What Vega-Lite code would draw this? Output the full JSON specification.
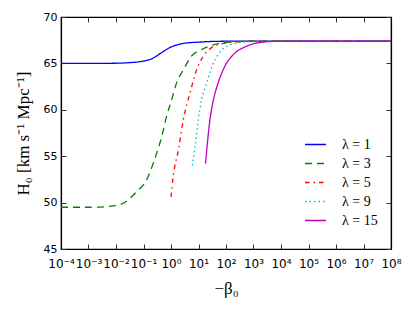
{
  "$schema": "https://vega.github.io/schema/vega-lite/v6.json",
  "width": 330,
  "height": 232,
  "autosize": {"type": "none"},
  "padding": {"left": 61, "top": 17, "right": 24, "bottom": 62},
  "background": "white",
  "config": {
    "view": {"stroke": "black", "strokeWidth": 1.2},
    "axis": {"grid": false, "domainColor": "black", "domainWidth": 1.2, "tickColor": "#333", "tickWidth": 1, "labelFont": "DejaVu Sans", "labelFontSize": 11, "labelColor": "black", "titleFont": "Liberation Serif", "titleFontWeight": "normal", "titleFontSize": 17, "titleColor": "black"}
  },
  "data": {"values": [
    {"s": "λ = 1", "x": 0.0001, "y": 65.0},
    {"s": "λ = 1", "x": 0.001, "y": 65.0},
    {"s": "λ = 1", "x": 0.01, "y": 65.02},
    {"s": "λ = 1", "x": 0.03, "y": 65.08},
    {"s": "λ = 1", "x": 0.1, "y": 65.25},
    {"s": "λ = 1", "x": 0.2, "y": 65.5},
    {"s": "λ = 1", "x": 0.4, "y": 66.05},
    {"s": "λ = 1", "x": 0.9, "y": 66.7},
    {"s": "λ = 1", "x": 2.8, "y": 67.15},
    {"s": "λ = 1", "x": 11, "y": 67.3},
    {"s": "λ = 1", "x": 50, "y": 67.38},
    {"s": "λ = 1", "x": 300, "y": 67.4},
    {"s": "λ = 1", "x": 100000000, "y": 67.4},
    {"s": "λ = 3", "x": 0.0001, "y": 49.5},
    {"s": "λ = 3", "x": 0.001, "y": 49.5},
    {"s": "λ = 3", "x": 0.004, "y": 49.55},
    {"s": "λ = 3", "x": 0.0078, "y": 49.65},
    {"s": "λ = 3", "x": 0.0184, "y": 49.93},
    {"s": "λ = 3", "x": 0.057, "y": 51.2},
    {"s": "λ = 3", "x": 0.13, "y": 52.45},
    {"s": "λ = 3", "x": 0.227, "y": 54.25},
    {"s": "λ = 3", "x": 0.3, "y": 55.3},
    {"s": "λ = 3", "x": 0.46, "y": 57.1},
    {"s": "λ = 3", "x": 0.69, "y": 59.3},
    {"s": "λ = 3", "x": 1.06, "y": 61.1},
    {"s": "λ = 3", "x": 1.6, "y": 62.9},
    {"s": "λ = 3", "x": 2.8, "y": 64.3},
    {"s": "λ = 3", "x": 5.6, "y": 65.8},
    {"s": "λ = 3", "x": 13, "y": 66.5},
    {"s": "λ = 3", "x": 35, "y": 67.0},
    {"s": "λ = 3", "x": 140, "y": 67.3},
    {"s": "λ = 3", "x": 1000, "y": 67.4},
    {"s": "λ = 3", "x": 100000000, "y": 67.4},
    {"s": "λ = 5", "x": 1, "y": 50.6},
    {"s": "λ = 5", "x": 1.2, "y": 52.8},
    {"s": "λ = 5", "x": 1.87, "y": 55.7},
    {"s": "λ = 5", "x": 2.8, "y": 58.9},
    {"s": "λ = 5", "x": 4.9, "y": 61.8},
    {"s": "λ = 5", "x": 8.5, "y": 64.3},
    {"s": "λ = 5", "x": 15, "y": 65.8},
    {"s": "λ = 5", "x": 30, "y": 66.7},
    {"s": "λ = 5", "x": 69, "y": 67.1},
    {"s": "λ = 5", "x": 320, "y": 67.35},
    {"s": "λ = 5", "x": 3000, "y": 67.4},
    {"s": "λ = 5", "x": 100000000, "y": 67.4},
    {"s": "λ = 9", "x": 5.95, "y": 54.0},
    {"s": "λ = 9", "x": 7.5, "y": 56.05},
    {"s": "λ = 9", "x": 9.8, "y": 58.9},
    {"s": "λ = 9", "x": 13, "y": 61.1},
    {"s": "λ = 9", "x": 20, "y": 62.9},
    {"s": "λ = 9", "x": 35, "y": 65.05},
    {"s": "λ = 9", "x": 69, "y": 66.4},
    {"s": "λ = 9", "x": 185, "y": 67.1},
    {"s": "λ = 9", "x": 600, "y": 67.33},
    {"s": "λ = 9", "x": 5000, "y": 67.4},
    {"s": "λ = 9", "x": 100000000, "y": 67.4},
    {"s": "λ = 15", "x": 18, "y": 54.2},
    {"s": "λ = 15", "x": 26, "y": 58.9},
    {"s": "λ = 15", "x": 35, "y": 61.1},
    {"s": "λ = 15", "x": 52, "y": 62.9},
    {"s": "λ = 15", "x": 91, "y": 64.7},
    {"s": "λ = 15", "x": 185, "y": 65.95},
    {"s": "λ = 15", "x": 560, "y": 66.85},
    {"s": "λ = 15", "x": 2300, "y": 67.3},
    {"s": "λ = 15", "x": 6900, "y": 67.38},
    {"s": "λ = 15", "x": 100000, "y": 67.4},
    {"s": "λ = 15", "x": 100000000, "y": 67.4}
  ]},
  "layer": [
    {
      "mark": {"type": "line", "strokeWidth": 1.3, "interpolate": "monotone", "clip": true},
      "encoding": {
        "x": {"field": "x", "type": "quantitative",
              "scale": {"type": "log", "domain": [0.0001, 100000000], "nice": false},
              "axis": {"values": [0.0001,0.001,0.01,0.1,1,10,100,1000,10000,100000,1000000,10000000,100000000],
                       "labelExpr": "'10' + (round(log(datum.value)/LN10) < 0 ? '⁻' : '') + substring('⁰¹²³⁴⁵⁶⁷⁸⁹', abs(round(log(datum.value)/LN10)), abs(round(log(datum.value)/LN10)) + 1)",
                       "labelFontSize": 12, "tickSize": -5, "labelPadding": 14, "title": "−β₀", "titlePadding": 11, "labelFlush": false}},
        "y": {"field": "y", "type": "quantitative",
              "scale": {"domain": [45, 70], "nice": false, "zero": false},
              "axis": {"values": [45,50,55,60,65,70], "tickSize": -5, "labelPadding": 9,
                       "title": "H₀ [km  s⁻¹   Mpc⁻¹]", "titleFontSize": 17, "titlePadding": 11}},
        "color": {"field": "s", "type": "nominal",
                  "scale": {"domain": ["λ = 1","λ = 3","λ = 5","λ = 9","λ = 15"], "range": ["#0000ff","#008000","#ff0000","#00bfbf","#bf00bf"]},
                  "legend": {"title": null, "orient": "none", "legendX": 243, "legendY": 116,
                             "symbolType": "stroke", "symbolSize": 441, "symbolStrokeWidth": 1.6,
                             "labelFont": "Liberation Serif", "labelFontSize": 14, "labelColor": "black",
                             "labelOffset": 15, "rowPadding": 0}},
        "strokeDash": {"field": "s", "type": "nominal",
                  "scale": {"domain": ["λ = 1","λ = 3","λ = 5","λ = 9","λ = 15"], "range": [[1,0],[7,5],[4.5,4,1.5,4],[1.5,3],[1,0]]},
                  "legend": null}
      }
    },
    {
      "mark": {"type": "point", "opacity": 0},
      "encoding": {
        "x": {"field": "x", "type": "quantitative",
              "axis": {"orient": "top", "values": [0.0001,0.001,0.01,0.1,1,10,100,1000,10000,100000,1000000,10000000,100000000], "labels": false, "title": null, "tickSize": -5}},
        "y": {"field": "y", "type": "quantitative",
              "axis": {"orient": "right", "values": [45,50,55,60,65,70], "labels": false, "title": null, "tickSize": -5}}
      }
    }
  ],
  "resolve": {"axis": {"x": "independent", "y": "independent"}}
}
